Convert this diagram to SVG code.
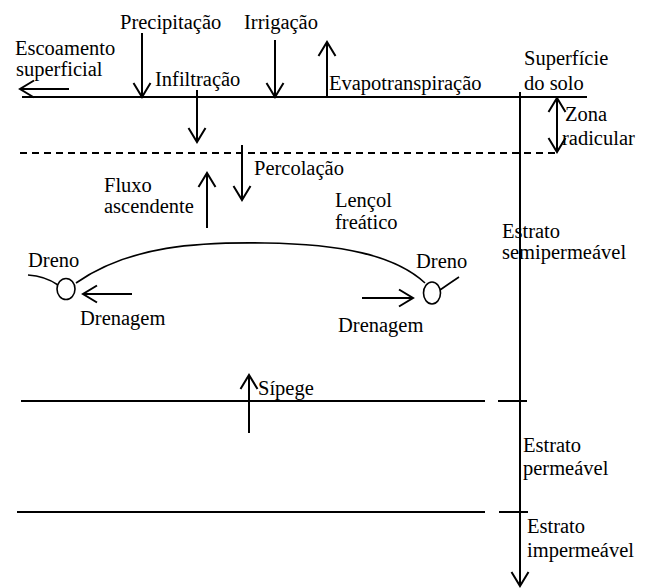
<svg xmlns="http://www.w3.org/2000/svg" width="670" height="588" viewBox="0 0 670 588">
<style>
  text { font-family: "Liberation Serif", "Times New Roman", serif; font-size: 20.5px; fill: #000; }
  .ln { stroke: #000; stroke-width: 2; fill: none; }
  .thin { stroke: #000; stroke-width: 1.6; fill: none; }
  .arr { stroke: #000; stroke-width: 2; fill: none; marker-end: url(#ah); }
</style>
<defs>
  <marker id="ah" markerUnits="userSpaceOnUse" orient="auto-start-reverse" refX="0" refY="0" markerWidth="20" markerHeight="20" viewBox="-16 -10 18 20" overflow="visible">
    <path d="M-14,-8.5 L0,0 L-14,8.5" fill="none" stroke="#000" stroke-width="2"/>
  </marker>
</defs>
<rect width="670" height="588" fill="#fff"/>

<g id="layers">
  <line id="surface" class="ln" x1="22" y1="97" x2="587" y2="97"/>
  <line id="root-zone-base" class="ln" x1="20" y1="153" x2="556" y2="153" stroke-dasharray="7 5"/>
  <line id="seepage-line" class="ln" x1="21" y1="401" x2="485" y2="401"/>
  <line class="ln" x1="498" y1="401" x2="527" y2="401"/>
  <line id="bottom-line" class="ln" x1="17" y1="512" x2="485" y2="512"/>
  <line class="ln" x1="499" y1="512" x2="528" y2="512"/>
</g>

<g id="connectors">
  <line id="a-escoamento" class="arr" x1="69" y1="89" x2="20" y2="89"/>
  <line id="a-precipitacao" class="arr" x1="142" y1="33" x2="142" y2="97"/>
  <line id="a-infiltracao" class="arr" x1="197" y1="90" x2="197" y2="142"/>
  <line id="a-irrigacao" class="arr" x1="275" y1="40" x2="275" y2="97"/>
  <line id="a-evapo" class="arr" x1="327" y1="97" x2="327" y2="42"/>
  <line id="a-zona" class="arr" x1="557" y1="98" x2="557" y2="152" style="marker-start:url(#ah)"/>
  <line id="a-percolacao" class="arr" x1="242" y1="145" x2="242" y2="200"/>
  <line id="a-fluxo" class="arr" x1="207" y1="228" x2="207" y2="173"/>
  <line id="a-drenagem-l" class="arr" x1="132" y1="294" x2="83" y2="294"/>
  <line id="a-drenagem-r" class="arr" x1="362" y1="298" x2="413" y2="298"/>
  <line id="a-sipege" class="arr" x1="249" y1="433" x2="249" y2="375"/>
  <line id="a-depth" class="arr" x1="520" y1="92" x2="520" y2="586"/>
</g>

<g id="lencol-freatico">
  <path class="thin" d="M76,283 C130,245 200,242 265,243 C340,244 395,255 425,283"/>
  <text x="335" y="207">Lençol</text>
  <text x="335" y="229">freático</text>
</g>

<g id="dreno-esq">
  <path class="thin" d="M28,275 Q45,276 58,285"/>
  <ellipse class="thin" cx="66" cy="289" rx="9" ry="10.5"/>
  <text x="28" y="267">Dreno</text>
</g>
<g id="dreno-dir">
  <path class="thin" d="M440,290 Q450,283 459,277"/>
  <ellipse class="thin" cx="432" cy="293" rx="8.5" ry="11"/>
  <text x="416" y="268">Dreno</text>
</g>

<g id="labels">
  <g id="escoamento"><text x="15" y="55">Escoamento</text><text x="16" y="76">superficial</text></g>
  <g id="precipitacao"><text x="120" y="29">Precipitação</text></g>
  <g id="infiltracao"><text x="155" y="86">Infiltração</text></g>
  <g id="irrigacao"><text x="244" y="29">Irrigação</text></g>
  <g id="evapotranspiracao"><text x="329" y="90">Evapotranspiração</text></g>
  <g id="superficie"><text x="524" y="65">Superfície</text><text x="524" y="90">do solo</text></g>
  <g id="zona"><text x="565" y="121">Zona</text><text x="562" y="145">radicular</text></g>
  <g id="percolacao"><text x="254" y="175">Percolação</text></g>
  <g id="fluxo"><text x="104" y="192">Fluxo</text><text x="104" y="213">ascendente</text></g>
  <g id="drenagem-l"><text x="80" y="325">Drenagem</text></g>
  <g id="drenagem-r"><text x="338" y="332">Drenagem</text></g>
  <g id="semipermeavel"><text x="502" y="238">Estrato</text><text x="502" y="259">semipermeável</text></g>
  <g id="sipege"><text x="258" y="395">Sípege</text></g>
  <g id="permeavel"><text x="523" y="452">Estrato</text><text x="523" y="475">permeável</text></g>
  <g id="impermeavel"><text x="527" y="533">Estrato</text><text x="527" y="557">impermeável</text></g>
</g>
</svg>
